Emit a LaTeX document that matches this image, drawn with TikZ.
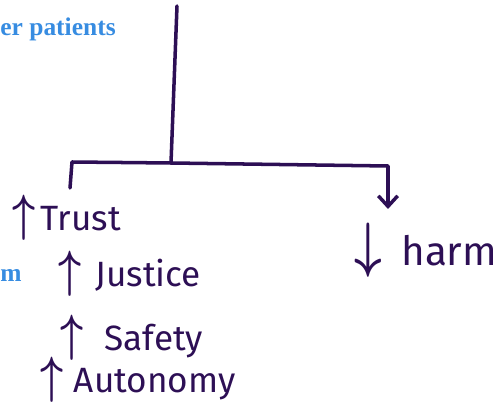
\documentclass[tikz,border=0pt]{standalone}
\usepackage{fontspec}
\setsansfont{Fira Sans}
\newfontfamily\slidefont{Liberation Serif}
\usepackage{xcolor}
\usetikzlibrary{positioning, calc, arrows.meta}
\definecolor{ink}{RGB}{45,15,85}
\definecolor{slideblue}{RGB}{55,140,225}
\tikzset{>={Straight Barb[length=6pt,width=11pt]}}
\newcommand{\upmark}{\scalebox{1.1}[1.4]{\boldmath$\uparrow$}}
\newcommand{\downmark}{\scalebox{1.1}[1.4]{\boldmath$\downarrow$}}
\tikzset{
  hand/.style={text=ink, anchor=west, inner sep=0pt, font=\sffamily\fontsize{20}{20}\selectfont},
  slide/.style={text=slideblue, anchor=west, inner sep=0pt, font=\slidefont\bfseries\fontsize{14.5}{14.5}\selectfont},
  pen/.style={draw=ink, line width=2pt, line cap=round, line join=round}
}

\begin{document}
\begin{tikzpicture}[x=0.02cm, y=-0.02cm]
    \useasboundingbox (0,0) rectangle (495,412);

    \node[slide] (patients) at (0,29) {er patients};
    \node[slide] (cutm) at (0,276) {m};

    \node[hand] (trust) at (12,218) {\upmark\hspace{3pt}Trust};
    \node[hand] (justice) at (58,274) {\upmark\hspace{8pt}Justice};
    \node[hand] (safety) at (60,338) {\upmark\hspace{12pt}Safety};
    \node[hand] (autonomy) at (40,380) {\upmark\hspace{6pt}Autonomy};
    \node[hand, font=\sffamily\fontsize{23}{23}\selectfont] (harm) at (354,250) {\downmark\hspace{11pt}harm};

    \coordinate (top) at (177,6);
    \coordinate (hub) at (171,163);
    \coordinate (leftend) at (70,188);
    \coordinate (rightend) at (388,209);

    \draw[pen] (top) -- (hub) -- (72,162) -- (leftend);
    \draw[pen, ->] (hub) -- (388,166) -- (rightend);
  \end{tikzpicture}
\end{document}
